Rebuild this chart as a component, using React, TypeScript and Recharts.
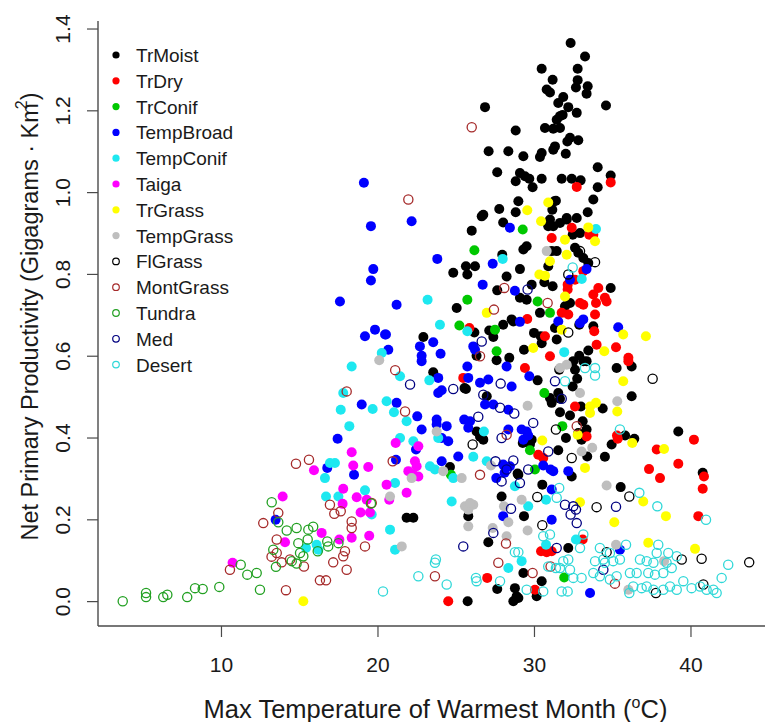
import { ScatterChart, Scatter, XAxis, YAxis } from 'recharts'

// Net primary productivity vs max temperature of warmest month, by biome

type Pt = [number, number]

const trMoist: Pt[] = [
  [32.31, 1.366], [33.23, 1.333], [30.46, 1.303], [32.76, 1.303], [31.16, 1.276], [32.76, 1.275], [33.4, 1.26],
  [32.65, 1.257], [30.78, 1.252], [30.99, 1.245], [33.33, 1.242], [31.84, 1.234], [31.52, 1.219], [32.16, 1.209],
  [34.57, 1.213], [26.84, 1.209], [31.8, 1.19], [31.42, 1.178], [31.63, 1.187], [32.7, 1.195], [30.67, 1.158],
  [31.2, 1.156], [31.63, 1.158], [28.8, 1.152], [32.27, 1.134], [32.1, 1.125], [32.8, 1.128], [31.31, 1.113],
  [31.2, 1.105], [30.46, 1.097], [30.35, 1.087], [27.07, 1.101], [28.33, 1.101], [29.29, 1.089], [32.0, 1.095],
  [27.62, 1.05], [29.07, 1.048], [29.39, 1.04], [29.67, 1.034], [28.8, 1.028], [30.46, 1.034], [31.74, 1.034],
  [32.38, 1.034], [32.95, 1.03], [34.04, 1.062], [34.87, 1.042], [29.88, 1.013], [34.04, 1.013], [33.76, 0.983],
  [28.97, 0.979], [27.75, 0.96], [26.73, 0.946], [26.63, 0.942], [28.8, 0.952], [31.27, 0.979], [31.14, 0.958],
  [33.4, 0.952], [32.7, 0.938], [32.06, 0.938], [31.37, 0.98], [30.99, 0.934], [31.2, 0.918], [30.88, 0.918],
  [31.63, 0.926], [32.06, 0.934], [28.0, 0.927], [25.99, 0.907], [32.44, 0.897], [32.91, 0.901], [29.5, 0.869],
  [29.29, 0.861], [31.1, 0.857], [31.42, 0.857], [32.59, 0.865], [32.8, 0.853], [33.12, 0.84], [33.44, 0.828],
  [30.88, 0.82], [29.07, 0.813], [28.22, 0.795], [30.63, 0.781], [31.16, 0.771], [29.82, 0.775], [27.62, 0.761],
  [29.07, 0.743], [29.5, 0.738], [32.27, 0.73], [31.95, 0.722], [34.87, 0.767], [25.03, 0.718], [30.35, 0.706],
  [31.31, 0.669], [31.42, 0.641], [32.86, 0.677], [33.76, 0.673], [33.44, 0.614], [32.86, 0.601], [29.97, 0.657],
  [30.46, 0.632], [30.4, 0.649], [29.33, 0.616], [28.0, 0.677], [28.54, 0.69], [28.65, 0.685], [27.11, 0.663],
  [27.37, 0.647], [28.39, 0.596], [26.3, 0.601], [26.16, 0.658], [27.94, 0.848], [24.81, 0.804], [25.62, 0.82],
  [25.71, 0.8], [26.2, 0.82], [22.9, 0.647], [23.53, 0.561], [27.58, 0.59], [32.48, 0.588], [33.12, 0.588],
  [33.33, 0.588], [31.58, 0.567], [32.59, 0.567], [35.25, 0.571], [36.21, 0.575], [25.53, 0.522], [30.2, 0.541],
  [32.44, 0.526], [32.73, 0.545], [25.62, 0.52], [26.95, 0.502], [30.99, 0.498], [31.1, 0.486], [31.52, 0.51],
  [31.63, 0.496], [32.97, 0.477], [34.36, 0.472], [36.21, 0.502], [31.63, 0.463], [32.27, 0.455], [33.08, 0.441],
  [33.33, 0.421], [33.01, 0.396], [32.8, 0.412], [32.01, 0.4], [29.25, 0.388], [31.52, 0.37], [33.37, 0.355],
  [34.5, 0.354], [34.93, 0.384], [35.79, 0.406], [36.38, 0.398], [39.19, 0.416], [40.75, 0.315], [35.51, 0.28],
  [30.5, 0.286], [28.97, 0.31], [28.92, 0.313], [32.38, 0.306], [29.82, 0.396], [29.71, 0.384], [26.3, 0.416],
  [26.73, 0.396], [26.52, 0.403], [24.6, 0.329], [25.77, 0.209], [21.83, 0.205], [22.26, 0.205], [27.05, 0.145],
  [25.73, 0.001], [27.62, 0.031], [28.75, 0.033], [28.86, 0.013], [28.65, 0.001], [28.97, 0.009], [29.29, 0.07],
  [30.14, 0.013], [30.46, 0.05], [32.16, 0.131], [27.9, 0.257], [29.33, 0.209],
]

const trDry: Pt[] = [
  [32.7, 1.014], [34.87, 1.025], [32.38, 0.914], [33.76, 0.897], [33.5, 0.897], [31.1, 0.889], [33.12, 0.808],
  [32.59, 0.787], [32.12, 0.775], [32.12, 0.763], [32.91, 0.73], [33.12, 0.726], [33.76, 0.751], [34.08, 0.767],
  [33.93, 0.73], [34.5, 0.743], [34.61, 0.734], [31.74, 0.706], [32.16, 0.702], [33.87, 0.702], [33.82, 0.661],
  [35.21, 0.622], [33.97, 0.628], [36.0, 0.596], [29.54, 0.691], [30.67, 0.649], [30.99, 0.6], [25.84, 0.669],
  [36.0, 0.588], [29.39, 0.571], [25.45, 0.547], [32.59, 0.477], [33.33, 0.404], [30.24, 0.359], [30.56, 0.351],
  [35.32, 0.398], [35.27, 0.406], [40.19, 0.396], [37.81, 0.372], [37.32, 0.324], [38.02, 0.302], [39.19, 0.337],
  [40.83, 0.306], [40.75, 0.276], [40.47, 0.209], [24.49, 0.001], [26.98, 0.058], [30.03, 0.029], [30.42, 0.123],
  [30.78, 0.121], [31.1, 0.123], [33.08, 0.152],
]

const trConif: Pt[] = [
  [29.25, 0.91], [26.16, 0.859], [30.2, 0.734], [25.71, 0.738], [30.99, 0.706], [27.48, 0.665], [27.58, 0.612],
  [25.2, 0.675], [30.63, 0.51], [31.78, 0.429], [29.71, 0.37], [30.03, 0.323], [31.9, 0.059], [24.66, 0.31],
]

const tempBroad: Pt[] = [
  [28.43, 0.914], [33.33, 0.813], [32.27, 0.787], [28.75, 0.76], [32.91, 0.681], [33.12, 0.69], [31.52, 0.685],
  [35.35, 0.671], [29.07, 0.684], [26.09, 0.624], [26.2, 0.616], [23.79, 0.838], [27.33, 0.826], [26.69, 0.775],
  [21.19, 0.726], [20.45, 0.653], [20.66, 0.616], [22.68, 0.624], [23.53, 0.634], [24.0, 0.606], [22.79, 0.601],
  [19.1, 1.024], [19.55, 0.918], [22.15, 0.93], [19.7, 0.813], [19.55, 0.785], [17.57, 0.734], [19.81, 0.665],
  [19.17, 0.649], [20.51, 0.653], [22.79, 0.588], [25.71, 0.575], [28.22, 0.575], [29.67, 0.551], [23.85, 0.547],
  [25.77, 0.547], [26.52, 0.535], [27.05, 0.543], [28.54, 0.526], [23.85, 0.51], [24.07, 0.517], [26.84, 0.482],
  [27.37, 0.482], [28.33, 0.469], [29.5, 0.416], [29.29, 0.396], [29.6, 0.406], [29.18, 0.421], [28.33, 0.421],
  [25.51, 0.445], [25.77, 0.425], [25.88, 0.441], [24.49, 0.392], [24.39, 0.429], [24.07, 0.4], [23.75, 0.433],
  [23.75, 0.445], [22.79, 0.421], [22.51, 0.453], [21.19, 0.486], [22.43, 0.372], [21.15, 0.347], [24.07, 0.343],
  [25.13, 0.355], [28.09, 0.315], [27.56, 0.302], [28.0, 0.335], [28.43, 0.331], [30.56, 0.333], [31.03, 0.323],
  [31.2, 0.319], [32.16, 0.319], [31.1, 0.274], [28.0, 0.209], [31.1, 0.2], [33.55, 0.021], [35.46, 0.127],
  [18.96, 0.482], [17.42, 0.398], [18.47, 0.31], [16.76, 0.327], [13.46, 0.2],
]

const tempConif: Pt[] = [
  [33.93, 0.911], [33.02, 0.789], [31.9, 0.61], [25.71, 0.661], [23.96, 0.677], [23.17, 0.738], [27.97, 0.838],
  [20.24, 0.608], [18.32, 0.575], [21.41, 0.551], [23.28, 0.541], [26.77, 0.416], [21.83, 0.441], [21.02, 0.463],
  [20.55, 0.49], [21.41, 0.4], [22.26, 0.392], [21.09, 0.29], [23.32, 0.331], [23.64, 0.323], [24.81, 0.302],
  [26.09, 0.354], [26.95, 0.343], [24.71, 0.245], [20.77, 0.176], [21.09, 0.127], [23.85, 0.4], [30.74, 0.249],
  [28.75, 0.282], [29.6, 0.233], [28.33, 0.082], [29.18, 0.099], [30.74, 0.139], [32.65, 0.152], [17.78, 0.51],
  [19.66, 0.471], [17.62, 0.469], [18.17, 0.429], [16.93, 0.339], [17.25, 0.339], [16.61, 0.302], [19.17, 0.272],
  [16.68, 0.257], [17.47, 0.257], [19.6, 0.213], [15.4, 0.131], [16.08, 0.139], [16.19, 0.127],
]

const taiga: Pt[] = [
  [21.13, 0.388], [22.58, 0.38], [22.36, 0.343], [22.47, 0.331], [21.94, 0.319], [22.26, 0.31], [22.58, 0.306],
  [20.55, 0.286], [21.83, 0.266], [20.72, 0.249], [18.32, 0.365], [18.42, 0.333], [19.38, 0.329], [15.91, 0.321],
  [17.78, 0.276], [18.64, 0.255], [19.28, 0.249], [17.74, 0.239], [18.89, 0.218], [19.49, 0.218], [19.44, 0.161],
  [18.32, 0.156], [17.53, 0.152], [16.4, 0.168], [14.06, 0.145], [13.91, 0.257], [10.71, 0.095],
]

const trGrass: Pt[] = [
  [30.88, 0.976], [29.54, 0.957], [30.42, 0.93], [33.44, 0.915], [33.87, 0.881], [31.95, 0.885], [32.06, 0.848],
  [30.99, 0.832], [30.31, 0.8], [30.67, 0.797], [31.95, 0.746], [26.95, 0.706], [31.74, 0.665], [35.67, 0.653],
  [37.12, 0.649], [34.46, 0.612], [29.92, 0.62], [35.67, 0.539], [33.55, 0.477], [33.93, 0.486], [33.55, 0.461],
  [35.29, 0.465], [32.76, 0.408], [30.5, 0.394], [36.25, 0.388], [38.28, 0.373], [33.23, 0.327], [38.4, 0.209],
  [35.1, 0.194], [36.95, 0.245], [32.91, 0.243], [37.27, 0.144], [40.26, 0.129], [15.23, 0.001],
]

const tempGrass: Pt[] = [
  [30.78, 0.857], [31.63, 0.571], [32.06, 0.579], [29.56, 0.479], [32.91, 0.51], [35.29, 0.49], [33.01, 0.367],
  [33.69, 0.376], [34.61, 0.284], [23.75, 0.416], [22.15, 0.302], [20.77, 0.257], [24.17, 0.319], [25.35, 0.302],
  [27.22, 0.333], [25.56, 0.233], [25.77, 0.225], [26.09, 0.237], [25.88, 0.241], [25.77, 0.184], [21.52, 0.135],
  [27.33, 0.18], [28.22, 0.16], [35.21, 0.139], [36.0, 0.029], [38.28, 0.099], [20.08, 0.59], [28.05, 0.233],
  [29.18, 0.249], [29.56, 0.174], [28.33, 0.194],
]

const flGrass: Pt[] = [
  [32.91, 0.857], [33.87, 0.83], [32.16, 0.8], [32.16, 0.658], [37.55, 0.545], [31.37, 0.421], [32.38, 0.351],
  [36.06, 0.257], [33.97, 0.231], [30.18, 0.256], [26.05, 0.384], [30.5, 0.187], [34.61, 0.121], [39.41, 0.103],
  [40.68, 0.105], [37.76, 0.021], [40.79, 0.042], [43.72, 0.096],
]

const montGrass: Pt[] = [
  [25.99, 1.16], [21.94, 0.983], [28.07, 0.767], [30.84, 0.73], [27.41, 0.714], [26.52, 0.6], [21.1, 0.566],
  [21.73, 0.465], [20.94, 0.343], [26.52, 0.31], [32.7, 0.429], [28.22, 0.408], [23.64, 0.062], [28.18, 0.142],
  [27.69, 0.095], [29.88, 0.07], [31.03, 0.086], [35.14, 0.044], [18.0, 0.514], [14.76, 0.337], [15.59, 0.347],
  [19.6, 0.241], [16.93, 0.237], [17.21, 0.215], [17.62, 0.221], [18.32, 0.196], [18.32, 0.18], [19.17, 0.135],
  [17.89, 0.123], [17.78, 0.111], [18.0, 0.078], [17.14, 0.096], [16.29, 0.052], [16.68, 0.052], [14.12, 0.028],
  [13.53, 0.152], [13.53, 0.119], [13.2, 0.11], [13.85, 0.096], [14.38, 0.103], [15.27, 0.086], [12.67, 0.192],
  [13.63, 0.217], [10.54, 0.078],
]

const tundra: Pt[] = [
  [15.51, 0.152], [14.91, 0.143], [14.8, 0.18], [15.55, 0.176], [15.86, 0.183], [14.17, 0.174], [13.31, 0.127],
  [14.49, 0.099], [14.8, 0.093], [15.23, 0.111], [13.48, 0.085], [13.63, 0.194], [13.21, 0.243], [19.55, 0.24],
  [16.76, 0.147], [17.47, 0.143], [16.82, 0.135], [16.15, 0.123], [15.02, 0.119], [11.23, 0.09], [11.65, 0.066],
  [12.25, 0.07], [12.46, 0.029], [9.86, 0.036], [8.8, 0.031], [8.31, 0.033], [7.81, 0.011], [6.54, 0.017],
  [6.28, 0.011], [5.18, 0.021], [5.18, 0.011], [3.69, 0.001],
]

const med: Pt[] = [
  [29.56, 0.763], [26.63, 0.636], [22.05, 0.531], [27.84, 0.533], [31.31, 0.539], [24.81, 0.52], [26.73, 0.506],
  [27.8, 0.474], [28.71, 0.46], [31.74, 0.496], [29.92, 0.437], [30.88, 0.367], [35.21, 0.232], [32.65, 0.225],
  [32.31, 0.213], [32.7, 0.192], [32.48, 0.233], [31.95, 0.237], [29.07, 0.29], [27.9, 0.294], [27.51, 0.343],
  [28.22, 0.323], [28.65, 0.345], [29.6, 0.323], [27.9, 0.4], [26.41, 0.452], [25.45, 0.135], [27.37, 0.168],
  [31.42, 0.131], [34.4, 0.078], [28.5, 0.227],
]

const desert: Pt[] = [
  [32.44, 0.817], [33.23, 0.571], [33.87, 0.571], [33.87, 0.553], [31.95, 0.539], [31.58, 0.278], [31.42, 0.254],
  [36.7, 0.266], [37.85, 0.233], [40.96, 0.2], [35.46, 0.421], [22.58, 0.062], [23.64, 0.095], [23.7, 0.103],
  [24.39, 0.042], [20.32, 0.025], [26.26, 0.058], [26.3, 0.05], [27.8, 0.05], [28.75, 0.121], [28.97, 0.121],
  [29.5, 0.029], [30.56, 0.025], [30.99, 0.164], [30.56, 0.16], [31.84, 0.099], [32.27, 0.078], [32.16, 0.103],
  [31.63, 0.082], [31.37, 0.082], [30.88, 0.086], [31.74, 0.025], [32.12, 0.025], [32.48, 0.058], [33.01, 0.058],
  [32.91, 0.131], [33.12, 0.164], [34.18, 0.131], [34.82, 0.119], [34.4, 0.103], [35.85, 0.139], [33.87, 0.099],
  [34.5, 0.095], [35.03, 0.099], [35.46, 0.103], [33.76, 0.07], [34.18, 0.062], [34.82, 0.054], [35.25, 0.062],
  [36.06, 0.021], [36.1, 0.07], [36.53, 0.07], [36.74, 0.103], [37.17, 0.099], [37.6, 0.095], [37.81, 0.119],
  [37.27, 0.07], [37.7, 0.066], [38.23, 0.07], [38.44, 0.095], [38.77, 0.082], [38.55, 0.119], [39.09, 0.111],
  [37.91, 0.139], [36.31, 0.037], [36.85, 0.033], [37.17, 0.037], [37.6, 0.029], [38.23, 0.029], [38.66, 0.037],
  [39.09, 0.029], [39.51, 0.05], [40.04, 0.033], [40.58, 0.037], [41.0, 0.029], [41.43, 0.029], [41.64, 0.021],
  [41.96, 0.058], [42.38, 0.09],
]

const xTicks = [10, 20, 30, 40]
const yTicks = [0, 0.2, 0.4, 0.6, 0.8, 1.0, 1.2, 1.4]

const biomes = [
  { name: 'TrMoist', data: trMoist, color: '#000000', open: false },
  { name: 'TrDry', data: trDry, color: '#ff0000', open: false },
  { name: 'TrConif', data: trConif, color: '#00c800', open: false },
  { name: 'TempBroad', data: tempBroad, color: '#0000ff', open: false },
  { name: 'TempConif', data: tempConif, color: '#1ee8f0', open: false },
  { name: 'Taiga', data: taiga, color: '#ff00ff', open: false },
  { name: 'TrGrass', data: trGrass, color: '#ffff00', open: false },
  { name: 'TempGrass', data: tempGrass, color: '#bebebe', open: false },
  { name: 'FlGrass', data: flGrass, color: '#000000', open: true },
  { name: 'MontGrass', data: montGrass, color: '#a52a2a', open: true },
  { name: 'Tundra', data: tundra, color: '#22a022', open: true },
  { name: 'Med', data: med, color: '#000080', open: true },
  { name: 'Desert', data: desert, color: '#30d8d8', open: true },
]

const FONT = '"Liberation Sans", Arial, sans-serif'
const INK = '#1a1a1a'
const FRAME = '#4a4a4a'

const markShape = (color: string, open: boolean) => (props: any) => {
  if (props.cx == null || props.cy == null) return <g />
  return open ? (
    <circle cx={props.cx} cy={props.cy} r={4.6} fill="none" stroke={color} strokeWidth={1.3} />
  ) : (
    <circle cx={props.cx} cy={props.cy} r={5} fill={color} />
  )
}

const XTick = (props: any) => (
  <text x={props.x} y={props.y + 33} textAnchor="middle" fontSize={21} fontFamily={FONT} fill={INK}>
    {props.payload.value}
  </text>
)

const YTick = (props: any) => {
  const bx = props.x - 15
  return (
    <text
      x={bx}
      y={props.y}
      transform={`rotate(-90, ${bx}, ${props.y})`}
      textAnchor="middle"
      fontSize={21}
      fontFamily={FONT}
      fill={INK}
    >
      {Number(props.payload.value).toFixed(1)}
    </text>
  )
}

const XTitle = (props: any) => {
  const vb = props.viewBox
  return (
    <text x={vb.x + vb.width / 2 + 4} y={vb.y + 92} textAnchor="middle" fontSize={25.5} fontFamily={FONT} fill={INK}>
      Max Temperature of Warmest Month (<tspan fontSize={16} dy={-10}>o</tspan>
      <tspan dy={10}>C)</tspan>
    </text>
  )
}

const YTitle = (props: any) => {
  const vb = props.viewBox
  const cy = vb.y + vb.height / 2 - 7
  return (
    <text
      x={38}
      y={cy}
      transform={`rotate(-90, 38, ${cy})`}
      textAnchor="middle"
      fontSize={23.5}
      fontFamily={FONT}
      fill={INK}
    >
      Net Primary Productivity (Gigagrams · Km<tspan fontSize={16} dy={-11} dx={-6}>2</tspan>
      <tspan dy={11}>)</tspan>
    </text>
  )
}

function BiomeLegend() {
  return (
    <svg width={220} height={360} style={{ position: 'absolute', left: 100, top: 36, pointerEvents: 'none' }}>
      {biomes.map((b, i) => {
        const cy = 19 + i * 25.8
        return (
          <g key={b.name}>
            {b.open ? (
              <circle cx={16} cy={cy} r={3.3} fill="none" stroke={b.color} strokeWidth={1.2} />
            ) : (
              <circle cx={16} cy={cy} r={3.6} fill={b.color} />
            )}
            <text x={36} y={cy + 7} fontSize={19} fontFamily={FONT} fill={INK}>
              {b.name}
            </text>
          </g>
        )
      })}
    </svg>
  )
}

export default function App() {
  return (
    <div style={{ position: 'absolute', left: 0, top: 0, width: 765, height: 722, background: '#fff' }}>
      <ScatterChart width={765} height={722} margin={{ top: 21, right: 0, bottom: 0, left: 0 }}>
        <XAxis
          xAxisId="top"
          orientation="top"
          type="number"
          domain={[2.11, 44.73]}
          height={0}
          tick={false}
          tickLine={false}
          axisLine={{ stroke: FRAME, strokeWidth: 1.4 }}
        />
        <XAxis
          dataKey="x"
          type="number"
          domain={[2.11, 44.73]}
          ticks={xTicks}
          allowDataOverflow
          height={96}
          tickSize={11}
          tickLine={{ stroke: FRAME, strokeWidth: 1.2 }}
          axisLine={{ stroke: FRAME, strokeWidth: 1.4 }}
          tick={<XTick />}
          label={{ content: <XTitle /> }}
        />
        <YAxis
          dataKey="y"
          type="number"
          domain={[-0.0596, 1.4196]}
          ticks={yTicks}
          allowDataOverflow
          width={98}
          tickSize={11}
          tickLine={{ stroke: FRAME, strokeWidth: 1.2 }}
          axisLine={{ stroke: FRAME, strokeWidth: 1.4 }}
          tick={<YTick />}
          label={{ content: <YTitle /> }}
        />
        {biomes.map((b) => (
          <Scatter
            key={b.name}
            name={b.name}
            data={b.data.map(([x, y]) => ({ x, y }))}
            shape={markShape(b.color, b.open)}
            isAnimationActive={false}
          />
        ))}
      </ScatterChart>
      <BiomeLegend />
    </div>
  )
}
